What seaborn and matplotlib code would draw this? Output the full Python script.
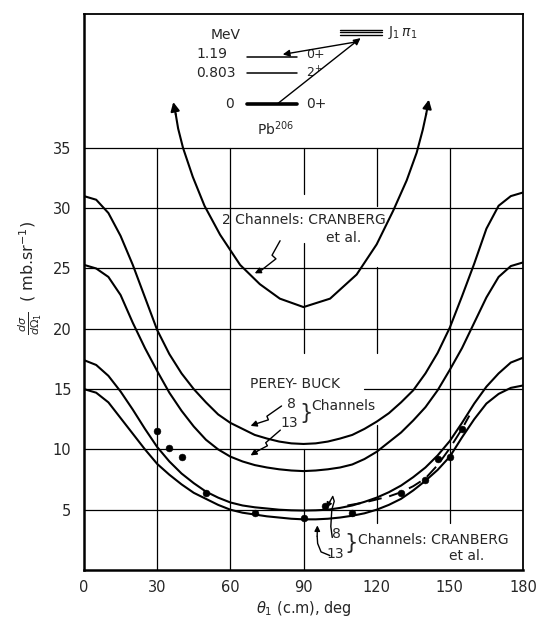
import matplotlib
matplotlib.use("Agg")
import matplotlib.pyplot as plt
import seaborn as sns
import numpy as np
import pandas as pd

# ---------------- data ----------------
angles = [0, 5, 10, 15, 20, 25, 30, 35, 40, 45, 50, 55, 60, 65, 70, 75, 80, 85, 90,
          95, 100, 105, 110, 115, 120, 125, 130, 135, 140, 145, 150, 155, 160, 165, 170, 175, 180]

perey_buck_8 = [31.0, 30.7, 29.6, 27.7, 25.3, 22.6, 19.9, 17.9, 16.3, 15.0, 13.9, 12.9, 12.2, 11.7,
                11.2, 10.9, 10.65, 10.5, 10.45, 10.5, 10.65, 10.9, 11.2, 11.7, 12.3, 13.0, 13.9,
                14.9, 16.3, 18.0, 20.1, 22.7, 25.4, 28.3, 30.2, 31.0, 31.3]
perey_buck_13 = [25.3, 25.0, 24.3, 22.8, 20.5, 18.4, 16.5, 14.7, 13.2, 11.9, 10.8, 10.0, 9.4, 9.0,
                 8.7, 8.5, 8.35, 8.25, 8.2, 8.25, 8.35, 8.5, 8.75, 9.2, 9.8, 10.6, 11.4, 12.4,
                 13.5, 14.9, 16.6, 18.4, 20.5, 22.6, 24.3, 25.2, 25.5]
cranberg_8 = [17.4, 17.0, 16.1, 14.8, 13.3, 11.7, 10.2, 9.0, 8.0, 7.2, 6.5, 6.0, 5.6, 5.35, 5.2,
              5.1, 5.0, 4.95, 4.93, 4.95, 5.0, 5.15, 5.35, 5.65, 6.0, 6.45, 7.0, 7.7, 8.5, 9.5,
              10.7, 12.2, 13.8, 15.2, 16.3, 17.2, 17.6]
cranberg_13 = [15.0, 14.7, 13.9, 12.6, 11.3, 10.0, 8.8, 7.9, 7.1, 6.4, 5.9, 5.4, 5.0, 4.75, 4.6,
               4.45, 4.35, 4.25, 4.2, 4.2, 4.25, 4.35, 4.5, 4.7, 5.0, 5.4, 5.9, 6.6, 7.4, 8.3,
               9.4, 11.0, 12.5, 13.8, 14.6, 15.1, 15.3]

two_ch_angle = [36.6, 37.6, 38.6, 40.6, 44.6, 49.4, 55.8, 64.0, 72.1, 80.3, 90.0, 100.9, 111.8,
                120.0, 126.8, 132.3, 136.4, 138.9, 140.3, 141.4]
two_ch_value = [38.8, 37.8, 36.6, 35.0, 32.6, 30.2, 27.8, 25.3, 23.7, 22.5, 21.8, 22.5, 24.5,
                27.0, 29.8, 32.3, 34.6, 36.5, 37.8, 39.0]

fit_angle = [108, 115, 120, 125, 130, 135, 140, 145, 150, 155, 158]
fit_value = [5.35, 5.6, 5.85, 6.1, 6.45, 6.95, 7.6, 8.7, 10.1, 11.7, 12.8]

exp_angle = [30, 35, 40, 50, 70, 90, 99, 110, 130, 140, 145, 150, 155]
exp_value = [11.5, 10.1, 9.4, 6.4, 4.75, 4.3, 5.3, 4.75, 6.4, 7.5, 9.2, 9.4, 11.7]

x_ticks = [0, 30, 60, 90, 120, 150, 180]
y_ticks = [5, 10, 15, 20, 25, 30, 35]

# ---------------- figure ----------------
sns.set_style("white")
plt.rcParams['font.family'] = ['DejaVu Sans']
fig = plt.figure(figsize=(5.43, 6.19), dpi=100)
ax = fig.add_axes([84/543, 1 - 570/619, 439/543, 556/619])
ax.set_xlim(0, 180)
ax.set_ylim(0, 46.1)

K = 'black'
# grid (with the gaps of the original drawing)
glw = 0.9
for yv in [5, 10, 20, 25, 30, 35]:
    ax.plot([0, 180], [yv, yv], color=K, lw=glw, zorder=1)
ax.plot([0, 60], [15, 15], color=K, lw=glw, zorder=1)
ax.plot([115, 180], [15, 15], color=K, lw=glw, zorder=1)
for xv in [30, 60]:
    ax.plot([xv, xv], [0, 35], color=K, lw=glw, zorder=1)
for a, b in [(0, 10), (18, 27.1), (31.2, 35)]:
    ax.plot([90, 90], [a, b], color=K, lw=glw, zorder=1)
for a, b in [(3.9, 12), (18, 25.1), (30.2, 35)]:
    ax.plot([120, 120], [a, b], color=K, lw=glw, zorder=1)
ax.plot([150, 150], [3.9, 35], color=K, lw=glw, zorder=1)

# curves
clw = 1.5
for vals in [perey_buck_8, perey_buck_13, cranberg_8, cranberg_13]:
    df = pd.DataFrame({'angle': angles, 'xs': vals})
    sns.lineplot(data=df, x='angle', y='xs', color=K, lw=clw, ax=ax, sort=False, zorder=3)
df2 = pd.DataFrame({'angle': two_ch_angle, 'xs': two_ch_value})
sns.lineplot(data=df2.iloc[1:-1], x='angle', y='xs', color=K, lw=clw, ax=ax, sort=False, zorder=3)
# arrowheads at the ends of the 2-channel curve
for i0, i1 in [(1, 0), (-2, -1)]:
    ax.annotate('', xy=(two_ch_angle[i1], two_ch_value[i1]),
                xytext=(two_ch_angle[i0], two_ch_value[i0]),
                arrowprops=dict(arrowstyle='-|>', color=K, lw=clw, mutation_scale=13,
                                shrinkA=0, shrinkB=0), zorder=3)
dff = pd.DataFrame({'angle': fit_angle, 'xs': fit_value})
sns.lineplot(data=dff, x='angle', y='xs', color=K, lw=1.4, ax=ax, sort=False,
             linestyle=(0, (7, 4)), zorder=3)
dfe = pd.DataFrame({'angle': exp_angle, 'xs': exp_value})
sns.scatterplot(data=dfe, x='angle', y='xs', color=K, s=24, edgecolor=K, ax=ax, zorder=4)

# axes style
ax.set_xticks(x_ticks)
ax.set_yticks(y_ticks)
ax.tick_params(length=0, labelsize=10.5)
ax.tick_params(axis='y', pad=9)
ax.tick_params(axis='x', pad=7)
for s in ['left', 'bottom']:
    ax.spines[s].set_linewidth(1.8)
for s in ['top', 'right']:
    ax.spines[s].set_linewidth(1.3)
for s in ax.spines.values():
    s.set_color(K)
ax.set_xlabel(r'$\theta_1$ (c.m), deg', fontsize=10.5, labelpad=3)
ax.set_ylabel(r'$\frac{d\sigma}{d\Omega_1}$  ( mb.sr$^{-1}$)', fontsize=11.5)
ax.yaxis.set_label_coords(-0.09, 0.525)

fs = 10
# 2 channel label + bolt arrow
ax.text(56.5, 29.0, '2 Channels: CRANBERG', fontsize=fs, ha='left', va='center', zorder=5)
ax.text(106.3, 27.5, 'et al.', fontsize=fs, ha='center', va='center', zorder=5)
bx = [80.4, 77.1, 78.7, 73.0]
by = [27.3, 26.1, 25.8, 24.9]
ax.plot(bx, by, color=K, lw=1.0, zorder=3)
ax.annotate('', xy=(70.0, 24.6), xytext=(73.0, 24.9),
            arrowprops=dict(arrowstyle='-|>', color=K, lw=1.0, mutation_scale=9, shrinkA=0, shrinkB=0))

# Perey-Buck labels
ax.text(86.5, 15.4, 'PEREY- BUCK', fontsize=fs, ha='center', va='center', zorder=5)
ax.text(85.2, 13.8, '8', fontsize=fs, ha='center', va='center')
ax.text(84.0, 12.2, '13', fontsize=fs, ha='center', va='center')
ax.text(91.0, 13.0, '}', fontsize=15, ha='center', va='center')
ax.text(93.2, 13.6, 'Channels', fontsize=fs, ha='left', va='center')
ax.plot([81.0, 75.0, 75.6, 71.0], [13.6, 12.75, 12.45, 12.15], color=K, lw=1.0)
ax.annotate('', xy=(68.3, 11.95), xytext=(71.0, 12.15),
            arrowprops=dict(arrowstyle='-|>', color=K, lw=1.0, mutation_scale=9, shrinkA=0, shrinkB=0))
ax.plot([80.5, 74.5, 75.2, 71.0], [11.6, 10.55, 10.3, 9.85], color=K, lw=1.0)
ax.annotate('', xy=(68.3, 9.5), xytext=(71.0, 9.85),
            arrowprops=dict(arrowstyle='-|>', color=K, lw=1.0, mutation_scale=9, shrinkA=0, shrinkB=0))

# Cranberg labels at the bottom
ax.text(103.6, 3.0, '8', fontsize=fs, ha='center', va='center')
ax.text(102.9, 1.35, '13', fontsize=fs, ha='center', va='center')
ax.text(109.5, 2.2, '}', fontsize=15, ha='center', va='center')
ax.text(112.5, 2.45, 'Channels: CRANBERG', fontsize=fs, ha='left', va='center')
ax.text(156.9, 1.2, 'et al.', fontsize=fs, ha='center', va='center')
ax.plot([101.8, 101.2, 101.6, 102.6, 102.0, 100.9], [2.7, 3.6, 5.0, 5.7, 6.1, 5.7], color=K, lw=1.0)
ax.annotate('', xy=(99.4, 5.15), xytext=(100.9, 5.7),
            arrowprops=dict(arrowstyle='-|>', color=K, lw=1.0, mutation_scale=8, shrinkA=0, shrinkB=0))
ax.plot([100.8, 97.2, 95.8, 95.6], [1.2, 1.5, 2.2, 2.8], color=K, lw=1.0)
ax.annotate('', xy=(95.7, 3.7), xytext=(95.6, 2.8),
            arrowprops=dict(arrowstyle='-|>', color=K, lw=1.0, mutation_scale=8, shrinkA=0, shrinkB=0))

# level scheme of Pb206
ax.text(58.0, 44.4, 'MeV', fontsize=fs, ha='center', va='center')
ax.text(59.0, 42.75, '1.19', fontsize=fs, ha='right', va='center')
ax.text(62.0, 41.2, '0.803', fontsize=fs, ha='right', va='center')
ax.text(61.5, 38.6, '0', fontsize=fs, ha='right', va='center')
ax.plot([66.8, 87.2], [42.5, 42.5], color=K, lw=1.1)
ax.plot([66.8, 87.2], [41.2, 41.2], color=K, lw=1.1)
ax.plot([66.8, 87.2], [38.6, 38.6], color=K, lw=2.6)
ax.text(91.0, 42.75, '0+', fontsize=9, ha='left', va='center')
ax.text(91.0, 41.2, r'2$^{+}$', fontsize=9, ha='left', va='center')
ax.text(91.0, 38.6, '0+', fontsize=fs, ha='left', va='center')
ax.text(78.5, 36.6, r'Pb$^{206}$', fontsize=fs, ha='center', va='center')
for yl in [44.8, 44.6, 44.4]:
    ax.plot([105.0, 122.0], [yl, yl], color=K, lw=1.0)
ax.text(124.5, 44.6, r'J$_1\,\pi_1$', fontsize=fs, ha='left', va='center')
ax.annotate('', xy=(113.4, 44.1), xytext=(79.3, 38.65),
            arrowprops=dict(arrowstyle='-|>', color=K, lw=1.0, mutation_scale=10, shrinkA=0, shrinkB=0))
ax.annotate('', xy=(81.5, 42.75), xytext=(112.0, 43.8),
            arrowprops=dict(arrowstyle='-|>', color=K, lw=1.0, mutation_scale=10, shrinkA=0, shrinkB=0))

fig.savefig('out.png', dpi=100)
